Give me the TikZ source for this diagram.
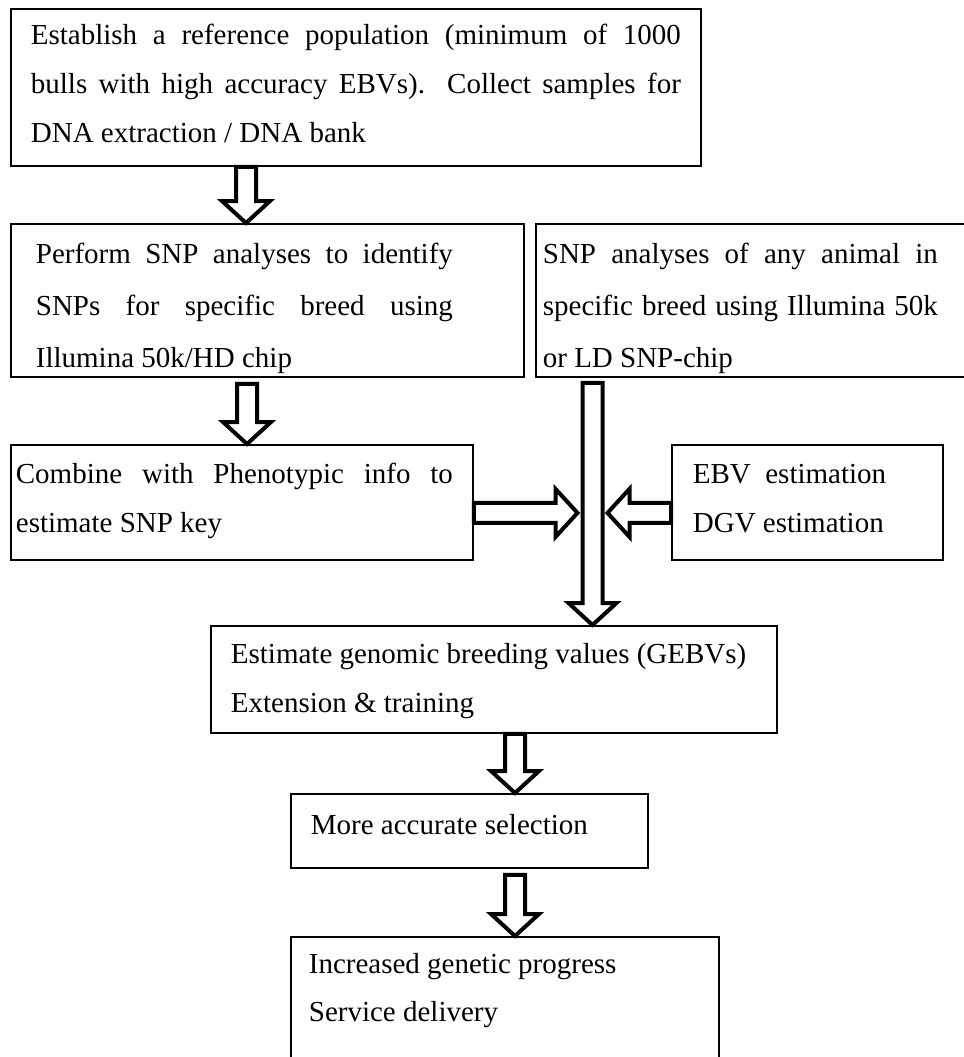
\documentclass[tikz,border=0pt]{standalone}
\usepackage{fontspec}
\setmainfont{Liberation Serif}
\usetikzlibrary{calc}

\tikzset{
  flowbox/.style={draw, line width=0.9pt, anchor=north west, inner xsep=0pt, inner ysep=0pt,
    font=\fontsize{14.5}{24.5}\selectfont},
  hollowarrow/.style={draw, line width=2pt, fill=white, line join=miter}
}

% text block: left pad, width, right pad, text
\newcommand{\padtext}[4]{\hspace*{#1}\parbox[t]{#2}{#4}\hspace*{#3}}

% hollow block arrow from #1 to tip #2
\newcommand{\blockarrow}[2]{%
  \path (#1) coordinate (ba-s) (#2) coordinate (ba-t);
  \path ($(ba-t)!11pt!(ba-s)$) coordinate (ba-h);
  \draw[hollowarrow] ($(ba-s)!5pt!90:(ba-t)$) -- ($(ba-h)!5pt!90:(ba-t)$)
    -- ($(ba-h)!12pt!90:(ba-t)$) -- (ba-t) -- ($(ba-h)!12pt!-90:(ba-t)$)
    -- ($(ba-h)!5pt!-90:(ba-t)$) -- ($(ba-s)!5pt!-90:(ba-t)$) -- cycle;}

\begin{document}
\begin{tikzpicture}[x=0.5pt, y=-0.5pt, line cap=round]

    \useasboundingbox (0,0) rectangle (964,1057);
    \clip (0,0) rectangle (964,1057);

    % Reference population
    \node[flowbox, text height=18pt, text depth=60.5pt] (refpop) at (10,8)
        {\padtext{10pt}{325pt}{10pt}{Establish a reference population (minimum of 1000\linebreak
         bulls with high accuracy EBVs). Collect samples for\linebreak
         DNA extraction / DNA bank}};

    % SNP analyses
    \node[flowbox, font=\fontsize{14.5}{26}\selectfont, text height=20pt, text depth=56.5pt]
        (snpbreed) at (10,223)
        {\padtext{12.5pt}{208.5pt}{35.5pt}{Perform SNP analyses to identify\linebreak
         SNPs for specific breed using\linebreak
         Illumina 50k/HD chip}};

    \node[flowbox, font=\fontsize{14.5}{26}\selectfont, text height=20pt, text depth=56.5pt]
        (snpany) at (535,223)
        {\padtext{3.5pt}{197.5pt}{16.5pt}{SNP analyses of any animal in\linebreak
         specific breed using Illumina 50k\linebreak
         or LD SNP-chip}};

    % SNP key and EBV / DGV
    \node[flowbox, text height=19.5pt, text depth=38pt] (combine) at (10,444)
        {\padtext{2.5pt}{218.5pt}{10pt}{Combine with Phenotypic info to\linebreak
         estimate SNP key}};

    \node[flowbox, text height=19.5pt, text depth=38pt] (ebv) at (671,444)
        {\padtext{10.5pt}{125pt}{0pt}{EBV\ \ estimation\\DGV estimation}};

    % GEBVs and outcome
    \node[flowbox, text height=19pt, text depth=34.5pt] (gebv) at (210,625)
        {\padtext{10pt}{265pt}{8pt}{Estimate genomic breeding values (GEBVs)\\
         Extension \& training}};

    \node[flowbox, text height=20.5pt, text depth=16.5pt] (select) at (290,793)
        {\padtext{10pt}{165pt}{3.5pt}{More accurate selection}};

    \node[flowbox, font=\fontsize{14.5}{24}\selectfont, text height=18.5pt, text depth=80pt]
        (incr) at (290,936)
        {\padtext{9pt}{200pt}{5pt}{Increased genetic progress\\Service delivery}};

    % Block arrows
    \coordinate (a1) at ($(refpop.south west)+(236,0)$);
    \coordinate (a2) at ($(snpbreed.south west)+(237,6)$);
    \coordinate (trunk top) at ($(snpany.south west)+(57.5,5)$);
    \coordinate (feed l) at ($(combine.east)+(0,10.5)$);
    \coordinate (feed r) at ($(ebv.west)+(0,10.5)$);
    \coordinate (a3) at ($(gebv.south west)+(305,0)$);
    \coordinate (a4) at ($(select.south west)+(225,6)$);

    \blockarrow{a1}{a1 |- snpbreed.north}
    \blockarrow{a2}{a2 |- combine.north}
    \blockarrow{trunk top}{trunk top |- gebv.north}
    \blockarrow{feed l}{$(feed l -| trunk top)+(-15,0)$}
    \blockarrow{feed r}{$(feed r -| trunk top)+(15,0)$}
    \blockarrow{a3}{a3 |- select.north}
    \blockarrow{a4}{a4 |- incr.north}

\end{tikzpicture}
\end{document}
